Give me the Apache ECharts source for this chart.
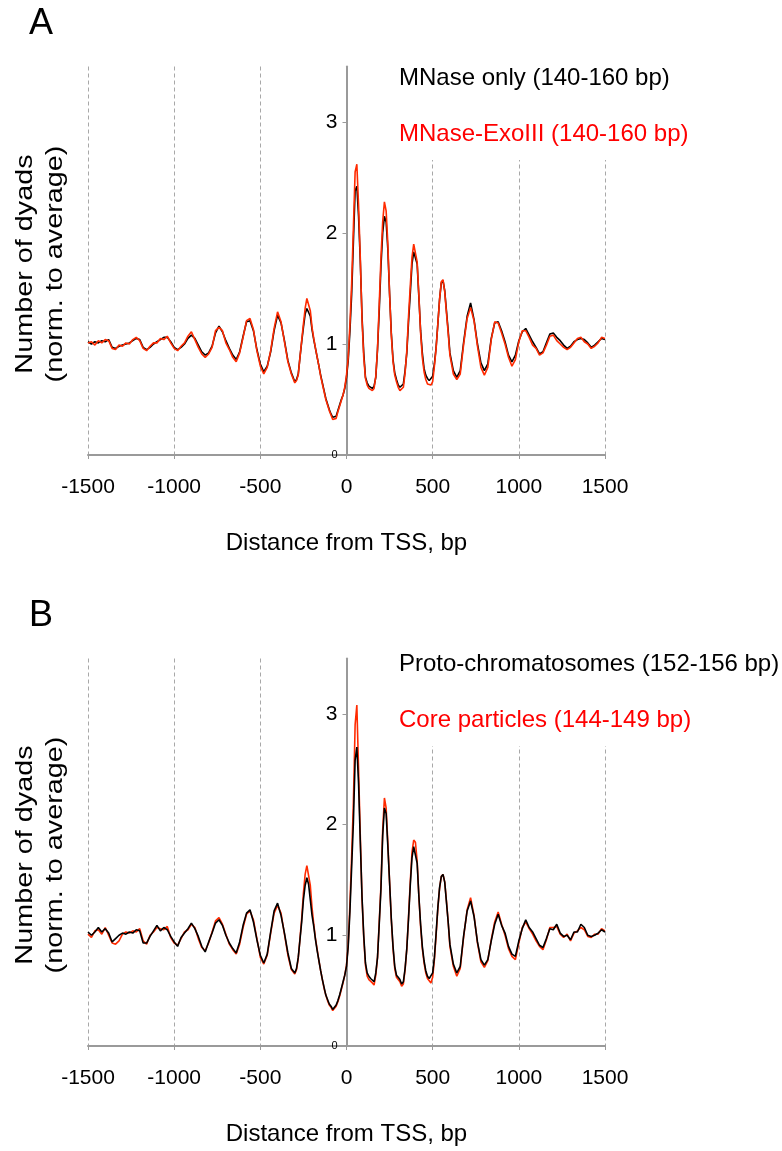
<!DOCTYPE html>
<html>
<head>
<meta charset="utf-8">
<script src="https://cdn.jsdelivr.net/npm/echarts@6/dist/echarts.min.js"></script>
<style>
  html, body { margin: 0; padding: 0; background: #fff; }
  #chart { width: 782px; height: 1151px; }
</style>
</head>
<body>
<div id="chart"></div>
<script>
// sample positions (bp from TSS): coarse on the flanks, finer around the TSS
function steps(from, to, step) {
  var out = [];
  for (var x = from; x <= to; x += step) out.push(x);
  return out;
}
var distance = [].concat(steps(-1500, -320, 20), steps(-300, 600, 10), steps(620, 1500, 20));

var xTicks = [-1500, -1000, -500, 0, 500, 1000, 1500];
var yTicks = [0, 1, 2, 3];

// panel A : MNase only (black) / MNase-ExoIII (red)
var mnaseOnly = [
  1.02, 1.00, 1.02, 1.01, 1.03, 1.02, 1.04, 0.97, 0.96, 0.98,
  0.99, 1.00, 1.01, 1.03, 1.05, 1.04, 0.97, 0.95, 0.97, 1.00,
  1.02, 1.04, 1.06, 1.06, 1.02, 0.97, 0.95, 0.97, 1.00, 1.05,
  1.08, 1.05, 0.99, 0.93, 0.90, 0.92, 0.98, 1.10, 1.16, 1.11,
  1.03, 0.96, 0.90, 0.86, 0.93, 1.07, 1.20, 1.21, 1.12, 0.95,
  0.82, 0.75, 0.80, 0.93, 1.12, 1.26, 1.19, 1.03, 0.85, 0.74,
  // -300 .. 600 step 10
  0.66, 0.68, 0.73, 0.88, 1.02, 1.15, 1.27, 1.32, 1.32, 1.25,
  1.13, 1.04, 0.96, 0.88, 0.80, 0.72, 0.65, 0.58, 0.51, 0.46,
  0.41, 0.37, 0.34, 0.33, 0.35, 0.40, 0.45, 0.50, 0.54, 0.60,
  0.70, 0.85, 1.12, 1.45, 1.92, 2.38, 2.42, 2.15, 1.75, 1.25,
  0.92, 0.70, 0.65, 0.62, 0.61, 0.60, 0.62, 0.70, 0.95, 1.30,
  1.70, 2.00, 2.15, 2.10, 1.85, 1.45, 1.10, 0.86, 0.74, 0.68,
  0.63, 0.61, 0.60, 0.64, 0.76, 0.92, 1.20, 1.45, 1.72, 1.83,
  1.84, 1.72, 1.42, 1.12, 0.92, 0.78, 0.72, 0.69, 0.67, 0.68,
  0.71, 0.82, 0.97, 1.18, 1.40, 1.55, 1.57, 1.48, 1.30, 1.12,
  0.92,
  // 620 .. 1500 step 20
  0.76, 0.70, 0.76, 1.02, 1.25, 1.37, 1.22, 1.00, 0.83, 0.76,
  0.82, 1.05, 1.19, 1.20, 1.12, 1.02, 0.90, 0.84, 0.90, 1.03,
  1.11, 1.14, 1.08, 1.02, 0.97, 0.91, 0.93, 1.01, 1.09, 1.10,
  1.06, 1.03, 0.99, 0.96, 0.98, 1.02, 1.04, 1.05, 1.04, 1.01,
  0.97, 0.99, 1.02, 1.05, 1.04
];
var mnaseExo = [
  1.01, 1.02, 0.99, 1.03, 1.01, 1.04, 1.03, 0.96, 0.95, 0.99,
  0.98, 1.01, 1.00, 1.04, 1.06, 1.03, 0.96, 0.94, 0.98, 1.01,
  1.01, 1.05, 1.04, 1.07, 1.01, 0.96, 0.94, 0.98, 1.01, 1.07,
  1.11, 1.04, 0.97, 0.91, 0.88, 0.91, 0.97, 1.12, 1.15, 1.12,
  1.01, 0.95, 0.88, 0.84, 0.92, 1.06, 1.21, 1.23, 1.13, 0.94,
  0.80, 0.73, 0.79, 0.94, 1.14, 1.29, 1.20, 1.02, 0.84, 0.73,
  0.65, 0.67, 0.72, 0.88, 1.03, 1.18, 1.32, 1.41, 1.42, 1.30,
  1.15, 1.05, 0.96, 0.88, 0.80, 0.71, 0.64, 0.57, 0.50, 0.45,
  0.40, 0.36, 0.32, 0.31, 0.33, 0.39, 0.44, 0.49, 0.54, 0.61,
  0.72, 0.88, 1.18, 1.55, 2.05, 2.55, 2.62, 2.25, 1.78, 1.22,
  0.88, 0.69, 0.63, 0.60, 0.59, 0.58, 0.60, 0.71, 0.96, 1.36,
  1.78, 2.10, 2.28, 2.20, 1.90, 1.45, 1.08, 0.84, 0.72, 0.66,
  0.61, 0.58, 0.57, 0.61, 0.74, 0.94, 1.25, 1.52, 1.78, 1.90,
  1.90, 1.74, 1.44, 1.10, 0.88, 0.75, 0.68, 0.64, 0.63, 0.63,
  0.66, 0.80, 0.96, 1.18, 1.40, 1.56, 1.58, 1.47, 1.28, 1.10,
  0.90,
  0.73, 0.68, 0.73, 1.00, 1.23, 1.33, 1.21, 0.98, 0.79, 0.72,
  0.79, 1.04, 1.20, 1.19, 1.10, 1.00, 0.88, 0.80, 0.86, 1.02,
  1.12, 1.12, 1.06, 0.99, 0.96, 0.90, 0.92, 0.99, 1.07, 1.08,
  1.03, 1.00, 0.97, 0.95, 0.97, 1.01, 1.05, 1.06, 1.02, 1.00,
  0.96, 0.98, 1.01, 1.06, 1.05
];

// panel B : proto-chromatosomes (black) / core particles (red)
var protoChromatosomes = [
  1.03, 1.00, 1.03, 1.07, 1.03, 1.06, 1.02, 0.94, 0.97, 1.00,
  1.02, 1.01, 1.03, 1.02, 1.05, 1.04, 0.93, 0.93, 0.99, 1.04,
  1.09, 1.04, 1.07, 1.05, 0.99, 0.94, 0.90, 0.98, 1.02, 1.06,
  1.11, 1.06, 0.99, 0.90, 0.85, 0.94, 1.02, 1.11, 1.14, 1.09,
  1.00, 0.93, 0.88, 0.84, 0.94, 1.09, 1.20, 1.23, 1.12, 0.96,
  0.82, 0.75, 0.83, 1.03, 1.22, 1.29, 1.18, 1.02, 0.84, 0.70,
  0.66, 0.70, 0.80, 0.96, 1.12, 1.32, 1.45, 1.52, 1.46, 1.32,
  1.18, 1.08, 0.96, 0.86, 0.77, 0.68, 0.60, 0.53, 0.46, 0.42,
  0.38, 0.36, 0.33, 0.34, 0.37, 0.41, 0.46, 0.52, 0.58, 0.64,
  0.72, 0.90, 1.22, 1.62, 2.02, 2.58, 2.70, 2.37, 1.85, 1.35,
  1.00, 0.75, 0.66, 0.63, 0.61, 0.60, 0.58, 0.66, 0.80, 1.10,
  1.42, 1.90, 2.15, 2.10, 1.80, 1.48, 1.15, 0.90, 0.72, 0.64,
  0.62, 0.60, 0.56, 0.58, 0.70, 0.88, 1.15, 1.45, 1.70, 1.80,
  1.80, 1.65, 1.35, 1.10, 0.90, 0.77, 0.68, 0.63, 0.61, 0.60,
  0.66, 0.80, 1.02, 1.25, 1.43, 1.53, 1.55, 1.48, 1.30, 1.12,
  0.92,
  0.74, 0.66, 0.72, 1.00, 1.22, 1.31, 1.17, 0.94, 0.78, 0.73,
  0.78, 0.95, 1.10, 1.19, 1.09, 1.02, 0.90, 0.83, 0.81, 0.95,
  1.06, 1.14, 1.07, 1.03, 0.97, 0.91, 0.89, 0.97, 1.06, 1.05,
  1.10, 1.02, 0.99, 1.00, 0.96, 1.03, 1.03, 1.10, 1.07, 1.00,
  0.99, 1.00, 1.02, 1.05, 1.03
];
var coreParticles = [
  1.01, 0.98, 1.04, 1.05, 1.01, 1.07, 1.00, 0.93, 0.92, 0.95,
  1.01, 1.03, 1.02, 1.04, 1.03, 1.06, 0.95, 0.92, 1.00, 1.03,
  1.07, 1.06, 1.05, 1.08, 0.98, 0.93, 0.91, 0.97, 1.03, 1.05,
  1.10, 1.07, 0.97, 0.89, 0.86, 0.93, 1.03, 1.13, 1.16, 1.10,
  1.01, 0.92, 0.87, 0.83, 0.92, 1.07, 1.19, 1.22, 1.14, 0.97,
  0.80, 0.74, 0.82, 1.02, 1.20, 1.27, 1.20, 1.01, 0.82, 0.69,
  0.65, 0.69, 0.79, 0.97, 1.15, 1.38, 1.55, 1.63, 1.62, 1.45,
  1.25, 1.10, 0.97, 0.87, 0.77, 0.68, 0.60, 0.52, 0.46, 0.41,
  0.37, 0.35, 0.32, 0.33, 0.36, 0.40, 0.45, 0.51, 0.57, 0.64,
  0.73, 0.92, 1.28, 1.72, 2.20, 2.90, 3.08, 2.50, 1.90, 1.33,
  0.98, 0.73, 0.63, 0.60, 0.59, 0.57, 0.55, 0.64, 0.80, 1.12,
  1.45, 1.95, 2.24, 2.15, 1.83, 1.48, 1.14, 0.88, 0.70, 0.62,
  0.60, 0.58, 0.54, 0.56, 0.69, 0.88, 1.17, 1.48, 1.75, 1.86,
  1.84, 1.67, 1.35, 1.08, 0.88, 0.75, 0.66, 0.61, 0.59, 0.57,
  0.62, 0.78, 1.00, 1.24, 1.42, 1.53, 1.55, 1.48, 1.31, 1.12,
  0.90,
  0.72, 0.63, 0.70, 0.99, 1.23, 1.34, 1.18, 0.93, 0.76, 0.71,
  0.77, 0.96, 1.12, 1.21, 1.10, 1.00, 0.88, 0.81, 0.78, 0.93,
  1.07, 1.12, 1.06, 1.01, 0.95, 0.90, 0.87, 0.96, 1.07, 1.07,
  1.08, 1.01, 0.98, 1.01, 0.95, 1.02, 1.04, 1.07, 1.05, 0.99,
  0.98, 1.01, 1.01, 1.06, 1.04
];

var chart = echarts.init(document.getElementById('chart'), null, { renderer: 'canvas' });

var FONT = 'Liberation Sans, Arial, sans-serif';
var RED = '#ff2a00';
var AXIS_GRAY = '#9a9a9a';
var GRID_LEFT = 88;
var GRID_WIDTH = 517;

function pairs(values) {
  return distance.map(function (d, i) { return [d, values[i]]; });
}

function xAxisFor(gridIndex) {
  return {
    gridIndex: gridIndex,
    type: 'value',
    min: -1500, max: 1500, interval: 500,
    name: 'Distance from TSS, bp',
    nameLocation: 'middle',
    nameGap: 76,
    nameTextStyle: { fontFamily: FONT, fontSize: 24, color: '#000' },
    axisLine: { lineStyle: { color: AXIS_GRAY, width: 2 } },
    axisTick: { customValues: xTicks, length: 4, lineStyle: { color: AXIS_GRAY } },
    axisLabel: {
      customValues: xTicks, margin: 22, fontFamily: FONT, fontSize: 21, color: '#000',
      formatter: function (v) { return String(v); }
    },
    splitLine: { show: true, lineStyle: { color: '#a8a8a8', width: 1, type: [4, 3] } }
  };
}

// y axis drawn through x = 0 (centre of the plot)
function yAxisFor(gridIndex) {
  return {
    gridIndex: gridIndex,
    type: 'value',
    position: 'left',
    offset: -(GRID_WIDTH / 2),
    min: 0, max: 3.5, interval: 1,
    axisLine: { onZero: false, lineStyle: { color: AXIS_GRAY, width: 2 } },
    axisTick: { customValues: yTicks, length: 4, lineStyle: { color: AXIS_GRAY } },
    axisLabel: {
      customValues: yTicks,
      margin: 9,
      formatter: function (v) { return v === 0 ? '{s|0}' : '{b|' + v + '}'; },
      rich: {
        s: { fontFamily: FONT, fontSize: 11, color: '#000' },
        b: { fontFamily: FONT, fontSize: 21, color: '#000' }
      }
    },
    splitLine: { show: false }
  };
}

function lineSeries(name, values, color, axisIndex) {
  return {
    name: name,
    type: 'line',
    xAxisIndex: axisIndex,
    yAxisIndex: axisIndex,
    data: pairs(values),
    showSymbol: false,
    symbol: 'none',
    lineStyle: { color: color, width: 1.6 },
    itemStyle: { color: color },
    emphasis: { disabled: true }
  };
}

function legendFor(top, names) {
  return {
    orient: 'vertical',
    left: 390,
    top: top,
    icon: 'none',
    itemWidth: 0,
    itemHeight: 0,
    itemGap: 32,
    padding: [6, 10, 14, 4],
    backgroundColor: '#fff',
    selectedMode: false,
    data: [
      { name: names[0], textStyle: { color: '#000' } },
      { name: names[1], textStyle: { color: '#ff0000' } }
    ],
    textStyle: { fontFamily: FONT, fontSize: 24 }
  };
}

function yTitle(cy) {
  return {
    type: 'text', x: 40, y: cy, rotation: Math.PI / 2, scaleX: 1.2,
    style: { text: 'Number of dyads\n(norm. to average)', font: '24px ' + FONT, lineHeight: 30,
             fill: '#000', align: 'center', verticalAlign: 'middle' }
  };
}

var option = {
  animation: false,
  backgroundColor: '#fff',
  grid: [
    { left: GRID_LEFT, top: 66.5, width: GRID_WIDTH, height: 388.5 },
    { left: GRID_LEFT, top: 658.5, width: GRID_WIDTH, height: 387.5 }
  ],
  xAxis: [xAxisFor(0), xAxisFor(1)],
  yAxis: [yAxisFor(0), yAxisFor(1)],
  legend: [
    legendFor(60, ['MNase only (140-160 bp)', 'MNase-ExoIII (140-160 bp)']),
    legendFor(646, ['Proto-chromatosomes (152-156 bp)', 'Core particles (144-149 bp)'])
  ],
  series: [
    lineSeries('MNase only (140-160 bp)', mnaseOnly, '#000', 0),
    lineSeries('MNase-ExoIII (140-160 bp)', mnaseExo, RED, 0),
    lineSeries('Core particles (144-149 bp)', coreParticles, RED, 1),
    lineSeries('Proto-chromatosomes (152-156 bp)', protoChromatosomes, '#000', 1)
  ],
  graphic: [
    { type: 'text', left: 29, top: 6, style: { text: 'A', font: '36px ' + FONT, fill: '#000' } },
    { type: 'text', left: 29, top: 598, style: { text: 'B', font: '36px ' + FONT, fill: '#000' } },
    yTitle(264),
    yTitle(855)
  ]
};

chart.setOption(option);
</script>
</body>
</html>
